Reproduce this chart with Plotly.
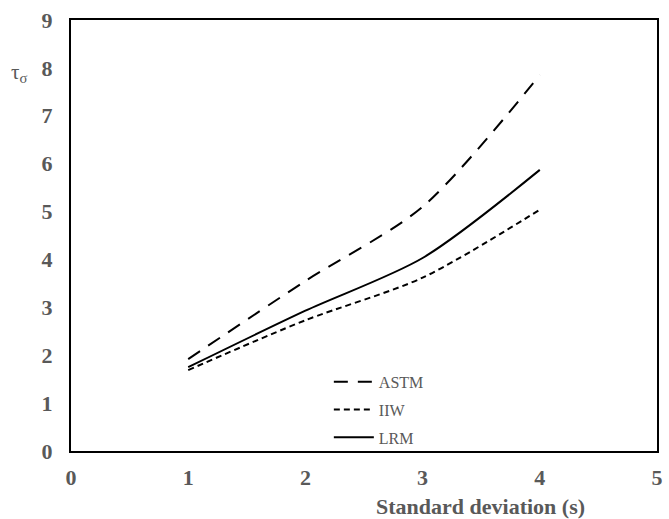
import plotly.graph_objects as go

# Standard deviation levels (s) and the resulting tau_sigma for each method
std_dev = [1, 2, 3, 4]
astm = [1.92, 3.55, 5.1, 7.85]
iiw = [1.69, 2.73, 3.62, 5.04]
lrm = [1.75, 2.93, 4.03, 5.87]

series = [
    ("ASTM", astm, "14px,10px"),
    ("IIW", iiw, "6px,4px"),
    ("LRM", lrm, "solid"),
]

fig = go.Figure()
for name, vals, dash in series:
    fig.add_trace(go.Scatter(
        x=std_dev, y=vals, name=name, mode="lines", legendgroup=name,
        line=dict(color="black", width=2, dash=dash, shape="spline", smoothing=0.8),
    ))

grey = "#595959"
tick_font = dict(family="Liberation Serif", size=22, color=grey)
axis_common = dict(
    showgrid=False, zeroline=False, showline=True, mirror=True,
    linecolor="black", linewidth=2, ticks="", tickfont=tick_font,
    tickprefix="<b>", ticksuffix="</b>",
)

fig.update_layout(
    width=669, height=519,
    margin=dict(l=71, r=6, t=20, b=68),
    paper_bgcolor="white", plot_bgcolor="white",
    font=dict(family="Liberation Serif", color=grey),
    xaxis=dict(range=[0, 5], dtick=1, ticklabelstandoff=6, **axis_common),
    yaxis=dict(range=[0, 9], dtick=1, ticklabelstandoff=12, **axis_common),
    showlegend=True,
    legend=dict(x=0.44, y=0.2, xanchor="left", yanchor="top",
                bgcolor="rgba(0,0,0,0)", tracegroupgap=4, itemwidth=40,
                font=dict(family="Liberation Serif", size=16, color=grey)),
    annotations=[
        dict(text="τ<sub>σ</sub>", xref="paper", yref="paper",
             x=-0.0895, y=0.877, xanchor="center", yanchor="middle", showarrow=False,
             font=dict(family="Liberation Serif", size=21, color=grey)),
        dict(text="<b>Standard deviation (s)</b>", xref="paper", yref="paper",
             x=0.698, y=-0.128, xanchor="center", yanchor="middle", showarrow=False,
             font=dict(family="Liberation Serif", size=22, color=grey)),
    ],
)

fig.write_html("out.html")
